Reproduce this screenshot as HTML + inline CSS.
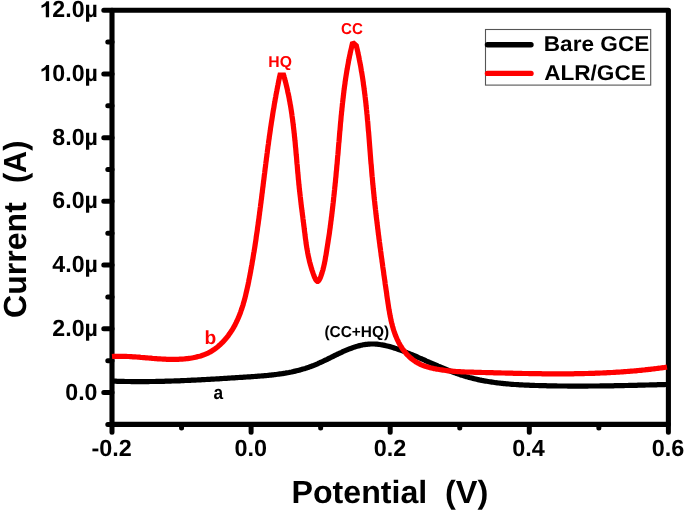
<!DOCTYPE html>
<html><head><meta charset="utf-8"><title>DPV chart</title>
<style>
html,body{margin:0;padding:0;background:#fff;}
body{width:685px;height:511px;overflow:hidden;}
svg{display:block;}
text{font-family:"Liberation Sans",sans-serif;font-weight:bold;font-kerning:none;white-space:pre;text-rendering:geometricPrecision;-webkit-font-smoothing:antialiased;}
</style></head>
<body>
<svg width="685" height="511" viewBox="0 0 685 511">
<defs><filter id="aa" x="0" y="0" width="685" height="511" filterUnits="userSpaceOnUse"><feOffset dx="0" dy="0"/></filter></defs>
<rect width="685" height="511" fill="#fff"/>
<path d="M112.0,10.2 H668.4 V424.4 H112.0 Z" fill="none" stroke="#000" stroke-width="5.1" stroke-linejoin="round"/>
<path d="M112.0,392.54 H103.8 M112.0,328.82 H103.8 M112.0,265.09 H103.8 M112.0,201.37 H103.8 M112.0,137.65 H103.8 M112.0,73.92 H103.8 M112.0,10.20 H103.8 M112.0,424.40 H107.8 M112.0,360.68 H107.8 M112.0,296.95 H107.8 M112.0,233.23 H107.8 M112.0,169.51 H107.8 M112.0,105.78 H107.8 M112.0,42.06 H107.8 M112.00,424.4 V432.3 M251.10,424.4 V432.3 M390.20,424.4 V432.3 M529.30,424.4 V432.3 M668.40,424.4 V432.3 M181.55,424.4 V428.0 M320.65,424.4 V428.0 M459.75,424.4 V428.0 M598.85,424.4 V428.0" fill="none" stroke="#000" stroke-width="5.0" stroke-linecap="round"/>
<path d="M112.0,381.1 L113.3,381.1 L114.6,381.2 L115.9,381.2 L117.2,381.3 L118.5,381.3 L119.8,381.3 L121.1,381.4 L122.4,381.4 L123.7,381.4 L125.0,381.5 L126.3,381.5 L127.6,381.5 L128.9,381.5 L130.2,381.5 L131.5,381.6 L132.8,381.6 L134.1,381.6 L135.4,381.6 L136.7,381.6 L138.0,381.6 L139.4,381.6 L140.7,381.6 L142.0,381.6 L143.3,381.6 L144.6,381.6 L145.9,381.6 L147.2,381.6 L148.5,381.6 L149.8,381.5 L151.1,381.5 L152.4,381.5 L153.7,381.5 L155.0,381.5 L156.3,381.4 L157.6,381.4 L158.9,381.4 L160.2,381.4 L161.5,381.3 L162.8,381.3 L164.1,381.3 L165.5,381.2 L166.8,381.2 L168.1,381.2 L169.4,381.1 L170.7,381.1 L172.0,381.0 L173.3,381.0 L174.6,380.9 L175.9,380.9 L177.2,380.9 L178.5,380.8 L179.8,380.8 L181.1,380.7 L182.4,380.7 L183.7,380.6 L185.0,380.5 L186.3,380.5 L187.7,380.4 L189.0,380.4 L190.3,380.3 L191.6,380.2 L192.9,380.2 L194.2,380.1 L195.5,380.1 L196.8,380.0 L198.1,379.9 L199.4,379.9 L200.7,379.8 L202.0,379.7 L203.3,379.7 L204.6,379.6 L205.9,379.5 L207.2,379.4 L208.6,379.4 L209.9,379.3 L211.2,379.2 L212.5,379.1 L213.8,379.1 L215.1,379.0 L216.4,378.9 L217.7,378.8 L219.0,378.8 L220.3,378.7 L221.6,378.6 L222.9,378.5 L224.2,378.4 L225.5,378.4 L226.8,378.3 L228.1,378.2 L229.4,378.1 L230.7,378.0 L232.0,377.9 L233.3,377.9 L234.6,377.8 L235.9,377.7 L237.3,377.6 L238.6,377.5 L239.9,377.4 L241.2,377.4 L242.5,377.3 L243.8,377.2 L245.1,377.1 L246.4,377.0 L247.7,376.9 L249.0,376.8 L250.3,376.8 L251.6,376.7 L252.9,376.6 L254.2,376.5 L255.5,376.4 L256.8,376.3 L258.1,376.2 L259.4,376.1 L260.7,376.0 L262.0,375.9 L263.3,375.8 L264.6,375.7 L265.9,375.6 L267.1,375.5 L268.4,375.3 L269.7,375.2 L271.0,375.1 L272.3,374.9 L273.6,374.8 L274.9,374.6 L276.2,374.5 L277.5,374.3 L278.7,374.1 L280.0,373.9 L281.3,373.8 L282.6,373.6 L283.8,373.4 L285.1,373.2 L286.4,372.9 L287.7,372.7 L288.9,372.5 L290.2,372.2 L291.5,372.0 L292.7,371.7 L294.0,371.4 L295.3,371.1 L296.5,370.8 L297.8,370.5 L299.0,370.2 L300.3,369.9 L301.5,369.5 L302.8,369.1 L304.0,368.8 L305.3,368.4 L306.5,368.0 L307.7,367.6 L309.0,367.2 L310.2,366.7 L311.4,366.3 L312.7,365.8 L313.9,365.3 L315.1,364.8 L316.3,364.3 L317.5,363.8 L318.8,363.2 L320.0,362.7 L321.2,362.1 L322.4,361.6 L323.6,361.0 L324.8,360.4 L326.0,359.8 L327.2,359.3 L328.4,358.7 L329.6,358.1 L330.8,357.5 L332.0,356.9 L333.2,356.3 L334.4,355.7 L335.6,355.1 L336.8,354.5 L338.0,354.0 L339.2,353.4 L340.4,352.8 L341.6,352.3 L342.8,351.7 L344.0,351.2 L345.2,350.7 L346.4,350.2 L347.6,349.7 L348.8,349.2 L350.0,348.7 L351.2,348.3 L352.4,347.8 L353.6,347.4 L354.8,347.0 L356.0,346.6 L357.2,346.3 L358.4,345.9 L359.7,345.6 L360.9,345.3 L362.1,345.1 L363.3,344.8 L364.6,344.6 L365.8,344.4 L367.0,344.3 L368.3,344.2 L369.5,344.1 L370.8,344.0 L372.0,344.0 L373.3,344.0 L374.5,344.0 L375.8,344.1 L377.1,344.2 L378.3,344.3 L379.6,344.5 L380.9,344.7 L382.1,344.9 L383.4,345.1 L384.7,345.4 L386.0,345.7 L387.2,346.0 L388.5,346.3 L389.8,346.6 L391.1,347.0 L392.3,347.4 L393.6,347.7 L394.9,348.2 L396.2,348.6 L397.4,349.0 L398.7,349.5 L400.0,349.9 L401.2,350.4 L402.5,350.9 L403.8,351.4 L405.0,351.9 L406.3,352.4 L407.5,352.9 L408.8,353.4 L410.0,353.9 L411.3,354.4 L412.5,354.9 L413.7,355.5 L415.0,356.0 L416.2,356.5 L417.4,357.0 L418.6,357.6 L419.8,358.1 L421.1,358.6 L422.3,359.2 L423.5,359.7 L424.7,360.2 L425.9,360.8 L427.1,361.3 L428.3,361.8 L429.5,362.4 L430.7,362.9 L431.9,363.4 L433.1,363.9 L434.3,364.5 L435.5,365.0 L436.7,365.5 L437.9,366.0 L439.0,366.5 L440.2,367.0 L441.4,367.5 L442.6,368.0 L443.8,368.5 L445.0,369.0 L446.2,369.5 L447.4,370.0 L448.6,370.5 L449.8,370.9 L451.0,371.4 L452.2,371.8 L453.4,372.3 L454.6,372.7 L455.8,373.2 L457.0,373.6 L458.2,374.0 L459.4,374.4 L460.6,374.9 L461.9,375.3 L463.1,375.6 L464.3,376.0 L465.5,376.4 L466.8,376.8 L468.0,377.1 L469.2,377.5 L470.5,377.8 L471.7,378.1 L473.0,378.4 L474.2,378.7 L475.5,379.0 L476.7,379.3 L478.0,379.6 L479.3,379.9 L480.5,380.1 L481.8,380.4 L483.1,380.6 L484.3,380.9 L485.6,381.1 L486.9,381.3 L488.2,381.5 L489.5,381.7 L490.8,381.9 L492.0,382.1 L493.3,382.3 L494.6,382.5 L495.9,382.7 L497.2,382.8 L498.5,383.0 L499.8,383.1 L501.1,383.3 L502.4,383.4 L503.8,383.6 L505.1,383.7 L506.4,383.8 L507.7,383.9 L509.0,384.0 L510.3,384.2 L511.6,384.3 L512.9,384.4 L514.3,384.5 L515.6,384.5 L516.9,384.6 L518.2,384.7 L519.5,384.8 L520.9,384.9 L522.2,384.9 L523.5,385.0 L524.8,385.1 L526.1,385.1 L527.5,385.2 L528.8,385.2 L530.1,385.3 L531.4,385.3 L532.7,385.4 L534.0,385.4 L535.4,385.5 L536.7,385.5 L538.0,385.5 L539.3,385.6 L540.6,385.6 L541.9,385.7 L543.3,385.7 L544.6,385.7 L545.9,385.7 L547.2,385.8 L548.5,385.8 L549.8,385.8 L551.1,385.8 L552.4,385.9 L553.7,385.9 L555.0,385.9 L556.3,385.9 L557.7,386.0 L559.0,386.0 L560.3,386.0 L561.6,386.0 L562.9,386.0 L564.2,386.0 L565.5,386.0 L566.8,386.0 L568.1,386.1 L569.4,386.1 L570.7,386.1 L572.0,386.1 L573.3,386.1 L574.6,386.1 L575.9,386.1 L577.2,386.1 L578.5,386.1 L579.8,386.1 L581.0,386.1 L582.3,386.1 L583.6,386.1 L584.9,386.1 L586.2,386.1 L587.5,386.1 L588.8,386.0 L590.1,386.0 L591.4,386.0 L592.7,386.0 L594.0,386.0 L595.3,386.0 L596.6,386.0 L597.9,386.0 L599.2,386.0 L600.5,385.9 L601.8,385.9 L603.1,385.9 L604.4,385.9 L605.6,385.9 L606.9,385.9 L608.2,385.8 L609.5,385.8 L610.8,385.8 L612.1,385.8 L613.4,385.8 L614.7,385.7 L616.0,385.7 L617.3,385.7 L618.6,385.7 L619.9,385.6 L621.2,385.6 L622.5,385.6 L623.8,385.6 L625.1,385.5 L626.4,385.5 L627.7,385.5 L629.0,385.4 L630.3,385.4 L631.6,385.4 L632.9,385.4 L634.2,385.3 L635.5,385.3 L636.8,385.3 L638.1,385.2 L639.4,385.2 L640.7,385.2 L642.0,385.1 L643.3,385.1 L644.6,385.1 L645.9,385.0 L647.3,385.0 L648.6,385.0 L649.9,384.9 L651.2,384.9 L652.5,384.9 L653.8,384.8 L655.1,384.8 L656.4,384.8 L657.8,384.7 L659.1,384.7 L660.4,384.7 L661.7,384.6 L663.0,384.6 L664.4,384.6 L665.7,384.5 L667.0,384.5" fill="none" stroke="#000" stroke-width="5.2" stroke-linejoin="round"/>
<path d="M112.0,356.5 L113.3,356.4 L114.6,356.4 L115.9,356.3 L117.2,356.3 L118.5,356.3 L119.8,356.3 L121.1,356.3 L122.4,356.3 L123.7,356.3 L125.0,356.4 L126.3,356.4 L127.6,356.5 L128.9,356.5 L130.2,356.6 L131.5,356.7 L132.8,356.8 L134.1,356.9 L135.4,356.9 L136.7,357.0 L138.0,357.1 L139.3,357.2 L140.6,357.4 L141.9,357.5 L143.2,357.6 L144.5,357.7 L145.8,357.8 L147.1,357.9 L148.4,358.0 L149.7,358.1 L151.0,358.2 L152.3,358.4 L153.6,358.5 L155.0,358.6 L156.3,358.7 L157.6,358.8 L158.9,358.8 L160.2,358.9 L161.5,359.0 L162.8,359.1 L164.1,359.2 L165.4,359.2 L166.7,359.3 L168.0,359.3 L169.3,359.3 L170.6,359.4 L172.0,359.4 L173.3,359.4 L174.6,359.4 L175.9,359.3 L177.2,359.3 L178.5,359.3 L179.8,359.2 L181.1,359.1 L182.5,359.1 L183.8,359.0 L185.1,358.8 L186.4,358.7 L187.7,358.6 L189.0,358.4 L190.4,358.2 L191.7,358.0 L193.0,357.8 L194.3,357.5 L195.6,357.2 L196.9,356.9 L198.1,356.6 L199.4,356.3 L200.7,355.9 L201.9,355.5 L203.2,355.1 L204.4,354.6 L205.6,354.1 L206.8,353.6 L208.0,353.1 L209.1,352.5 L210.3,351.9 L211.4,351.2 L212.5,350.5 L213.6,349.8 L214.7,349.1 L215.7,348.3 L216.8,347.5 L217.8,346.7 L218.8,345.9 L219.7,345.0 L220.7,344.1 L221.6,343.2 L222.5,342.3 L223.4,341.4 L224.2,340.5 L225.1,339.5 L225.9,338.6 L226.7,337.6 L227.5,336.6 L228.3,335.6 L229.0,334.6 L229.7,333.6 L230.4,332.5 L231.1,331.5 L231.8,330.4 L232.5,329.4 L233.1,328.3 L233.8,327.2 L234.4,326.1 L235.0,325.0 L235.5,323.8 L236.1,322.7 L236.7,321.5 L237.2,320.4 L237.7,319.2 L238.2,318.1 L238.7,316.9 L239.2,315.7 L239.7,314.5 L240.2,313.3 L240.6,312.1 L241.0,310.8 L241.5,309.6 L241.9,308.4 L242.3,307.1 L242.7,305.9 L243.1,304.7 L243.4,303.4 L243.8,302.1 L244.2,300.9 L244.5,299.6 L244.9,298.3 L245.2,297.0 L245.5,295.8 L245.8,294.5 L246.1,293.2 L246.4,291.9 L246.7,290.6 L247.0,289.3 L247.3,288.0 L247.6,286.7 L247.9,285.4 L248.2,284.1 L248.4,282.8 L248.7,281.5 L248.9,280.2 L249.2,278.9 L249.5,277.6 L249.7,276.2 L250.0,274.9 L250.2,273.6 L250.5,272.3 L250.7,271.0 L250.9,269.7 L251.2,268.4 L251.4,267.1 L251.6,265.8 L251.9,264.5 L252.1,263.2 L252.3,261.9 L252.5,260.6 L252.8,259.3 L253.0,258.0 L253.2,256.7 L253.4,255.4 L253.6,254.1 L253.8,252.8 L254.1,251.5 L254.3,250.2 L254.5,248.9 L254.7,247.6 L254.9,246.3 L255.1,245.0 L255.3,243.7 L255.5,242.4 L255.7,241.1 L255.9,239.8 L256.1,238.5 L256.2,237.3 L256.4,236.0 L256.6,234.7 L256.8,233.4 L257.0,232.1 L257.2,230.8 L257.4,229.5 L257.5,228.2 L257.7,226.9 L257.9,225.6 L258.1,224.3 L258.3,223.0 L258.4,221.7 L258.6,220.5 L258.8,219.2 L259.0,217.9 L259.1,216.6 L259.3,215.3 L259.5,214.0 L259.6,212.7 L259.8,211.4 L260.0,210.1 L260.1,208.8 L260.3,207.6 L260.5,206.3 L260.6,205.0 L260.8,203.7 L261.0,202.4 L261.1,201.1 L261.3,199.8 L261.5,198.5 L261.6,197.3 L261.8,196.0 L261.9,194.7 L262.1,193.4 L262.3,192.1 L262.4,190.8 L262.6,189.5 L262.7,188.3 L262.9,187.0 L263.1,185.7 L263.2,184.4 L263.4,183.1 L263.5,181.8 L263.7,180.5 L263.9,179.3 L264.0,178.0 L264.2,176.7 L264.3,175.4 L264.5,174.1 L264.7,172.8 L264.8,171.5 L265.0,170.3 L265.1,169.0 L265.3,167.7 L265.5,166.4 L265.6,165.1 L265.8,163.8 L265.9,162.6 L266.1,161.3 L266.3,160.0 L266.4,158.7 L266.6,157.4 L266.8,156.1 L266.9,154.8 L267.1,153.6 L267.3,152.3 L267.4,151.0 L267.6,149.7 L267.8,148.4 L267.9,147.1 L268.1,145.9 L268.3,144.6 L268.5,143.3 L268.6,142.0 L268.8,140.7 L269.0,139.4 L269.2,138.1 L269.3,136.9 L269.5,135.6 L269.7,134.3 L269.9,133.0 L270.1,131.7 L270.3,130.4 L270.4,129.2 L270.6,127.9 L270.8,126.6 L271.0,125.3 L271.2,124.0 L271.4,122.7 L271.6,121.4 L271.8,120.2 L272.0,118.9 L272.2,117.6 L272.4,116.3 L272.6,115.0 L272.8,113.7 L273.0,112.4 L273.2,111.1 L273.4,109.9 L273.7,108.6 L273.9,107.3 L274.1,106.0 L274.3,104.7 L274.5,103.4 L274.8,102.1 L275.0,100.8 L275.2,99.5 L275.4,98.3 L275.7,97.0 L275.9,95.7 L276.1,94.4 L276.4,93.1 L276.6,91.8 L276.9,90.5 L277.1,89.2 L277.4,87.9 L277.6,86.6 L277.9,85.3 L278.1,84.1 L278.4,82.8 L278.6,81.5 L278.9,80.2 L279.2,78.9 L279.4,77.6 L279.7,76.3 L280.0,75.0 L283.6,75.0 L284.0,76.3 L284.3,77.5 L284.7,78.8 L285.0,80.1 L285.3,81.3 L285.7,82.6 L286.0,83.9 L286.3,85.1 L286.6,86.4 L286.9,87.7 L287.2,88.9 L287.5,90.2 L287.7,91.5 L288.0,92.8 L288.3,94.0 L288.6,95.3 L288.8,96.6 L289.1,97.9 L289.3,99.1 L289.5,100.4 L289.8,101.7 L290.0,103.0 L290.2,104.3 L290.5,105.5 L290.7,106.8 L290.9,108.1 L291.1,109.4 L291.3,110.7 L291.5,112.0 L291.7,113.3 L291.9,114.5 L292.0,115.8 L292.2,117.1 L292.4,118.4 L292.6,119.7 L292.7,121.0 L292.9,122.3 L293.1,123.6 L293.2,124.9 L293.4,126.2 L293.5,127.5 L293.7,128.8 L293.8,130.0 L294.0,131.3 L294.1,132.6 L294.3,133.9 L294.4,135.2 L294.5,136.5 L294.7,137.8 L294.8,139.1 L294.9,140.4 L295.1,141.7 L295.2,143.0 L295.3,144.3 L295.4,145.6 L295.5,146.9 L295.7,148.2 L295.8,149.5 L295.9,150.8 L296.0,152.1 L296.1,153.4 L296.2,154.7 L296.4,156.0 L296.5,157.3 L296.6,158.6 L296.7,159.9 L296.8,161.2 L296.9,162.5 L297.0,163.8 L297.2,165.1 L297.3,166.4 L297.4,167.7 L297.5,169.0 L297.6,170.3 L297.7,171.6 L297.8,172.9 L298.0,174.2 L298.1,175.5 L298.2,176.8 L298.3,178.1 L298.4,179.4 L298.6,180.7 L298.7,182.0 L298.8,183.3 L298.9,184.6 L299.1,185.9 L299.2,187.2 L299.3,188.5 L299.5,189.8 L299.6,191.1 L299.8,192.4 L299.9,193.7 L300.1,195.0 L300.2,196.3 L300.4,197.6 L300.5,198.9 L300.7,200.2 L300.8,201.5 L301.0,202.8 L301.1,204.1 L301.3,205.4 L301.4,206.7 L301.6,208.0 L301.8,209.3 L301.9,210.5 L302.1,211.8 L302.3,213.1 L302.4,214.4 L302.6,215.7 L302.8,217.0 L302.9,218.3 L303.1,219.6 L303.2,220.9 L303.4,222.1 L303.6,223.4 L303.7,224.7 L303.9,226.0 L304.1,227.3 L304.2,228.6 L304.4,229.9 L304.5,231.1 L304.7,232.4 L304.9,233.7 L305.0,235.0 L305.2,236.3 L305.3,237.5 L305.5,238.8 L305.7,240.1 L305.9,241.4 L306.0,242.7 L306.2,244.0 L306.4,245.2 L306.6,246.5 L306.8,247.8 L307.0,249.1 L307.3,250.4 L307.5,251.7 L307.7,253.0 L308.0,254.3 L308.2,255.6 L308.5,256.9 L308.8,258.2 L309.1,259.5 L309.4,260.8 L309.7,262.1 L310.1,263.5 L310.4,264.8 L310.8,266.1 L311.2,267.4 L311.6,268.8 L312.0,270.1 L312.5,271.5 L312.9,272.8 L313.4,274.2 L313.9,275.5 L314.4,276.9 L315.0,278.1 L315.5,279.3 L316.1,280.2 L316.7,280.9 L317.3,281.3 L317.9,281.3 L318.5,280.9 L319.1,280.1 L319.8,278.9 L320.4,277.5 L321.0,275.9 L321.5,274.4 L322.0,272.9 L322.4,271.4 L322.9,270.0 L323.2,268.6 L323.6,267.2 L323.9,265.8 L324.2,264.5 L324.5,263.2 L324.7,261.9 L325.0,260.7 L325.2,259.4 L325.4,258.1 L325.6,256.8 L325.9,255.6 L326.1,254.3 L326.3,253.0 L326.5,251.8 L326.7,250.5 L326.9,249.2 L327.1,247.9 L327.3,246.6 L327.5,245.4 L327.7,244.1 L327.9,242.8 L328.1,241.5 L328.3,240.2 L328.5,239.0 L328.7,237.7 L328.9,236.4 L329.1,235.1 L329.3,233.8 L329.5,232.5 L329.6,231.2 L329.8,230.0 L330.0,228.7 L330.2,227.4 L330.3,226.1 L330.5,224.8 L330.7,223.5 L330.8,222.2 L331.0,220.9 L331.2,219.6 L331.3,218.3 L331.5,217.0 L331.7,215.7 L331.8,214.4 L332.0,213.2 L332.1,211.9 L332.3,210.6 L332.4,209.3 L332.6,208.0 L332.7,206.7 L332.9,205.4 L333.0,204.1 L333.2,202.8 L333.3,201.5 L333.5,200.2 L333.6,198.9 L333.7,197.6 L333.9,196.3 L334.0,195.0 L334.2,193.7 L334.3,192.4 L334.4,191.1 L334.6,189.8 L334.7,188.5 L334.8,187.2 L335.0,185.9 L335.1,184.6 L335.2,183.3 L335.4,182.1 L335.5,180.8 L335.6,179.5 L335.7,178.2 L335.9,176.9 L336.0,175.6 L336.1,174.3 L336.2,173.0 L336.3,171.7 L336.5,170.4 L336.6,169.1 L336.7,167.8 L336.8,166.5 L336.9,165.2 L337.1,163.9 L337.2,162.6 L337.3,161.3 L337.4,160.0 L337.5,158.7 L337.6,157.4 L337.7,156.1 L337.9,154.8 L338.0,153.5 L338.1,152.2 L338.2,150.9 L338.3,149.6 L338.4,148.3 L338.5,147.0 L338.6,145.7 L338.7,144.4 L338.8,143.1 L339.0,141.8 L339.1,140.5 L339.2,139.2 L339.3,137.9 L339.4,136.6 L339.5,135.3 L339.6,134.0 L339.7,132.7 L339.8,131.4 L340.0,130.1 L340.1,128.8 L340.2,127.5 L340.3,126.2 L340.4,124.9 L340.5,123.6 L340.6,122.3 L340.8,121.0 L340.9,119.7 L341.0,118.4 L341.1,117.1 L341.2,115.8 L341.4,114.5 L341.5,113.2 L341.6,111.9 L341.8,110.6 L341.9,109.3 L342.0,108.0 L342.2,106.7 L342.3,105.4 L342.4,104.1 L342.6,102.8 L342.7,101.5 L342.9,100.2 L343.0,98.9 L343.2,97.6 L343.3,96.3 L343.5,95.0 L343.6,93.7 L343.8,92.4 L343.9,91.1 L344.1,89.8 L344.3,88.5 L344.4,87.2 L344.6,86.0 L344.8,84.7 L345.0,83.4 L345.1,82.1 L345.3,80.8 L345.5,79.5 L345.7,78.2 L345.9,76.9 L346.1,75.6 L346.3,74.4 L346.5,73.1 L346.7,71.8 L346.9,70.5 L347.2,69.2 L347.4,67.9 L347.6,66.6 L347.8,65.4 L348.1,64.1 L348.3,62.8 L348.5,61.5 L348.8,60.2 L349.0,59.0 L349.3,57.7 L349.5,56.4 L349.8,55.1 L350.1,53.9 L350.3,52.6 L350.6,51.3 L350.9,50.0 L351.2,48.8 L351.5,47.5 L351.8,46.2 L352.1,44.9 L352.4,43.7 L352.7,42.4 L356.3,45.6 L356.6,46.9 L356.9,48.1 L357.2,49.4 L357.5,50.6 L357.8,51.9 L358.0,53.2 L358.3,54.4 L358.6,55.7 L358.8,57.0 L359.1,58.2 L359.3,59.5 L359.6,60.8 L359.8,62.1 L360.1,63.3 L360.3,64.6 L360.6,65.9 L360.8,67.2 L361.0,68.4 L361.2,69.7 L361.4,71.0 L361.7,72.3 L361.9,73.6 L362.1,74.9 L362.3,76.1 L362.5,77.4 L362.7,78.7 L362.9,80.0 L363.1,81.3 L363.3,82.6 L363.4,83.9 L363.6,85.2 L363.8,86.5 L364.0,87.8 L364.1,89.0 L364.3,90.3 L364.5,91.6 L364.6,92.9 L364.8,94.2 L365.0,95.5 L365.1,96.8 L365.3,98.1 L365.4,99.4 L365.6,100.7 L365.7,102.0 L365.9,103.3 L366.0,104.6 L366.1,105.9 L366.3,107.2 L366.4,108.5 L366.5,109.8 L366.7,111.1 L366.8,112.4 L366.9,113.8 L367.1,115.1 L367.2,116.4 L367.3,117.7 L367.4,119.0 L367.5,120.3 L367.7,121.6 L367.8,122.9 L367.9,124.2 L368.0,125.5 L368.1,126.8 L368.2,128.1 L368.3,129.4 L368.4,130.7 L368.6,132.0 L368.7,133.3 L368.8,134.7 L368.9,136.0 L369.0,137.3 L369.1,138.6 L369.2,139.9 L369.3,141.2 L369.4,142.5 L369.5,143.8 L369.6,145.1 L369.7,146.4 L369.8,147.7 L369.9,149.0 L370.0,150.3 L370.1,151.6 L370.2,152.9 L370.3,154.2 L370.4,155.5 L370.5,156.8 L370.6,158.1 L370.7,159.5 L370.8,160.8 L370.9,162.1 L371.0,163.4 L371.2,164.7 L371.3,166.0 L371.4,167.3 L371.5,168.6 L371.6,169.9 L371.7,171.2 L371.8,172.5 L371.9,173.7 L372.0,175.0 L372.1,176.3 L372.3,177.6 L372.4,178.9 L372.5,180.2 L372.6,181.5 L372.7,182.8 L372.8,184.1 L373.0,185.4 L373.1,186.7 L373.2,188.0 L373.3,189.2 L373.5,190.5 L373.6,191.8 L373.7,193.1 L373.9,194.4 L374.0,195.7 L374.1,197.0 L374.2,198.2 L374.4,199.5 L374.5,200.8 L374.7,202.1 L374.8,203.4 L374.9,204.7 L375.1,205.9 L375.2,207.2 L375.4,208.5 L375.5,209.8 L375.7,211.1 L375.8,212.4 L375.9,213.6 L376.1,214.9 L376.2,216.2 L376.4,217.5 L376.5,218.8 L376.7,220.0 L376.9,221.3 L377.0,222.6 L377.2,223.9 L377.3,225.2 L377.5,226.4 L377.6,227.7 L377.8,229.0 L378.0,230.3 L378.1,231.6 L378.3,232.8 L378.4,234.1 L378.6,235.4 L378.8,236.7 L378.9,238.0 L379.1,239.3 L379.3,240.5 L379.4,241.8 L379.6,243.1 L379.8,244.4 L379.9,245.7 L380.1,247.0 L380.3,248.2 L380.5,249.5 L380.6,250.8 L380.8,252.1 L381.0,253.4 L381.1,254.7 L381.3,256.0 L381.5,257.3 L381.7,258.6 L381.9,259.9 L382.0,261.1 L382.2,262.4 L382.4,263.7 L382.6,265.0 L382.7,266.3 L382.9,267.6 L383.1,268.9 L383.3,270.2 L383.5,271.5 L383.7,272.8 L383.8,274.1 L384.0,275.4 L384.2,276.7 L384.4,278.0 L384.6,279.3 L384.8,280.6 L385.0,282.0 L385.1,283.3 L385.3,284.6 L385.5,285.9 L385.7,287.2 L385.9,288.5 L386.1,289.8 L386.3,291.2 L386.5,292.5 L386.7,293.8 L386.8,295.1 L387.0,296.4 L387.2,297.8 L387.4,299.1 L387.6,300.4 L387.8,301.7 L388.0,303.1 L388.2,304.4 L388.4,305.7 L388.6,307.1 L388.8,308.4 L389.0,309.7 L389.3,311.0 L389.5,312.3 L389.7,313.7 L390.0,315.0 L390.2,316.3 L390.5,317.6 L390.8,318.9 L391.0,320.2 L391.3,321.5 L391.6,322.7 L392.0,324.0 L392.3,325.3 L392.6,326.5 L393.0,327.8 L393.3,329.1 L393.7,330.3 L394.1,331.5 L394.5,332.7 L395.0,334.0 L395.4,335.2 L395.9,336.3 L396.4,337.5 L396.9,338.7 L397.4,339.9 L398.0,341.0 L398.5,342.1 L399.1,343.3 L399.7,344.4 L400.4,345.5 L401.0,346.5 L401.7,347.6 L402.4,348.7 L403.1,349.7 L403.9,350.7 L404.7,351.7 L405.5,352.7 L406.3,353.7 L407.1,354.6 L408.0,355.5 L408.9,356.4 L409.8,357.3 L410.8,358.1 L411.8,358.9 L412.8,359.7 L413.8,360.5 L414.8,361.2 L415.9,361.9 L417.0,362.5 L418.1,363.2 L419.2,363.7 L420.3,364.3 L421.5,364.8 L422.7,365.3 L423.9,365.8 L425.1,366.2 L426.3,366.6 L427.6,367.0 L428.8,367.3 L430.1,367.7 L431.4,368.0 L432.7,368.3 L433.9,368.6 L435.2,368.8 L436.5,369.1 L437.8,369.3 L439.1,369.5 L440.4,369.7 L441.7,369.9 L443.0,370.1 L444.3,370.3 L445.6,370.5 L446.9,370.6 L448.2,370.8 L449.6,370.9 L450.9,371.0 L452.2,371.1 L453.5,371.3 L454.8,371.4 L456.1,371.5 L457.4,371.6 L458.7,371.6 L460.0,371.7 L461.3,371.8 L462.6,371.9 L463.9,371.9 L465.2,372.0 L466.5,372.0 L467.9,372.1 L469.2,372.1 L470.5,372.2 L471.8,372.2 L473.1,372.2 L474.4,372.3 L475.7,372.3 L477.0,372.3 L478.3,372.4 L479.6,372.4 L480.9,372.4 L482.2,372.5 L483.6,372.5 L484.9,372.5 L486.2,372.6 L487.5,372.6 L488.8,372.6 L490.1,372.7 L491.4,372.7 L492.7,372.7 L494.0,372.8 L495.3,372.8 L496.6,372.8 L497.9,372.9 L499.2,372.9 L500.5,372.9 L501.9,373.0 L503.2,373.0 L504.5,373.0 L505.8,373.1 L507.1,373.1 L508.4,373.1 L509.7,373.2 L511.0,373.2 L512.3,373.2 L513.6,373.3 L514.9,373.3 L516.2,373.3 L517.5,373.3 L518.8,373.4 L520.1,373.4 L521.4,373.4 L522.7,373.5 L524.0,373.5 L525.3,373.5 L526.6,373.5 L527.9,373.5 L529.2,373.6 L530.6,373.6 L531.9,373.6 L533.2,373.6 L534.5,373.7 L535.8,373.7 L537.1,373.7 L538.4,373.7 L539.7,373.7 L541.0,373.7 L542.3,373.8 L543.6,373.8 L544.9,373.8 L546.2,373.8 L547.5,373.8 L548.8,373.8 L550.1,373.8 L551.4,373.8 L552.7,373.8 L554.0,373.8 L555.3,373.8 L556.6,373.8 L557.9,373.8 L559.2,373.8 L560.5,373.8 L561.8,373.8 L563.1,373.8 L564.4,373.8 L565.7,373.8 L567.0,373.8 L568.3,373.8 L569.6,373.8 L570.9,373.8 L572.2,373.8 L573.5,373.8 L574.8,373.7 L576.1,373.7 L577.4,373.7 L578.7,373.7 L580.0,373.7 L581.3,373.6 L582.6,373.6 L583.9,373.6 L585.2,373.5 L586.5,373.5 L587.8,373.5 L589.1,373.4 L590.4,373.4 L591.7,373.4 L593.0,373.3 L594.3,373.3 L595.6,373.2 L596.9,373.2 L598.2,373.1 L599.5,373.1 L600.8,373.0 L602.1,373.0 L603.4,372.9 L604.7,372.9 L606.0,372.8 L607.3,372.7 L608.6,372.7 L609.9,372.6 L611.2,372.5 L612.5,372.5 L613.8,372.4 L615.1,372.3 L616.4,372.2 L617.7,372.2 L619.0,372.1 L620.3,372.0 L621.6,371.9 L622.9,371.8 L624.2,371.7 L625.5,371.6 L626.8,371.5 L628.1,371.4 L629.4,371.3 L630.7,371.2 L632.0,371.1 L633.3,371.0 L634.6,370.9 L635.9,370.8 L637.2,370.6 L638.4,370.5 L639.7,370.4 L641.0,370.3 L642.3,370.1 L643.6,370.0 L644.9,369.9 L646.2,369.7 L647.5,369.6 L648.8,369.4 L650.1,369.3 L651.4,369.1 L652.7,369.0 L654.0,368.8 L655.3,368.7 L656.6,368.5 L657.9,368.3 L659.2,368.2 L660.5,368.0 L661.8,367.8 L663.1,367.7 L664.4,367.5 L665.7,367.3 L667.0,367.1" fill="none" stroke="#f00" stroke-width="5.2" stroke-linejoin="miter" stroke-miterlimit="1.6"/>
<path d="M49.1,17.20 V1.20 H46.4 Q45.84,2.66 44.3,3.75 Q42.8,4.84 41.5,5.23 V8.00 Q43.97,7.25 45.78,5.70 V17.20 Z" fill="#000"/>
<path d="M49.1,80.92 V64.92 H46.4 Q45.84,66.38 44.3,67.47 Q42.8,68.56 41.5,68.95 V71.72 Q43.97,70.97 45.78,69.42 V80.92 Z" fill="#000"/>
<rect x="485.5" y="29.5" width="165.2" height="55.6" fill="#fff" stroke="#555" stroke-width="1.1"/>
<path d="M487.5,44.8 H531" stroke="#000" stroke-width="5.4" stroke-linecap="round"/>
<path d="M487.5,73.4 H531" stroke="#f00" stroke-width="5.4" stroke-linecap="round"/>
<g filter="url(#aa)">
<text transform="translate(52.34,17.20) scale(0.9900,1)" font-size="23.4">2.0µ</text>
<text transform="translate(52.34,80.92) scale(0.9900,1)" font-size="23.4">0.0µ</text>
<text transform="translate(52.34,144.65) scale(0.9900,1)" font-size="23.4">8.0µ</text>
<text transform="translate(52.34,208.37) scale(0.9900,1)" font-size="23.4">6.0µ</text>
<text transform="translate(52.34,272.09) scale(0.9900,1)" font-size="23.4">4.0µ</text>
<text transform="translate(52.34,335.82) scale(0.9900,1)" font-size="23.4">2.0µ</text>
<text transform="translate(65.25,399.54) scale(0.9900,1)" font-size="23.4">0.0</text>
<text transform="translate(91.55,455.80) scale(1.0000,1)" font-size="23.4">-0.2</text>
<text transform="translate(234.55,455.80) scale(1.0000,1)" font-size="23.4">0.0</text>
<text transform="translate(373.64,455.80) scale(1.0000,1)" font-size="23.4">0.2</text>
<text transform="translate(512.34,455.80) scale(1.0000,1)" font-size="23.4">0.4</text>
<text transform="translate(651.80,455.80) scale(1.0000,1)" font-size="23.4">0.6</text>
<text transform="translate(291.55,503.20) scale(1.0044,1)" font-size="32">Potential</text>
<text transform="translate(444.98,503.20) scale(1.0160,1)" font-size="32">(V)</text>
<text transform="translate(25.50,318.02) rotate(-90) scale(1.0030,1)" font-size="32">Current</text>
<text transform="translate(25.50,183.12) rotate(-90) scale(0.9555,1)" font-size="32">(A)</text>
<text transform="translate(268.35,66.80) scale(0.9964,1)" font-size="15.8" fill="#f00">HQ</text>
<text transform="translate(341.08,33.60) scale(0.9567,1)" font-size="15.8" fill="#f00">CC</text>
<text transform="translate(324.43,336.70) scale(0.9769,1)" font-size="15.8">(CC+HQ)</text>
<text transform="translate(204.43,344.00) scale(1.0131,1)" font-size="19" fill="#f00">b</text>
<text transform="translate(213.49,398.60) scale(0.9081,1)" font-size="19">a</text>
<text transform="translate(543.79,50.80) scale(1.0609,1)" font-size="21.3">Bare&#160;GCE</text>
<text transform="translate(544.14,79.50) scale(1.0605,1)" font-size="21.3">ALR/GCE</text>
</g>
</svg>
</body></html>
